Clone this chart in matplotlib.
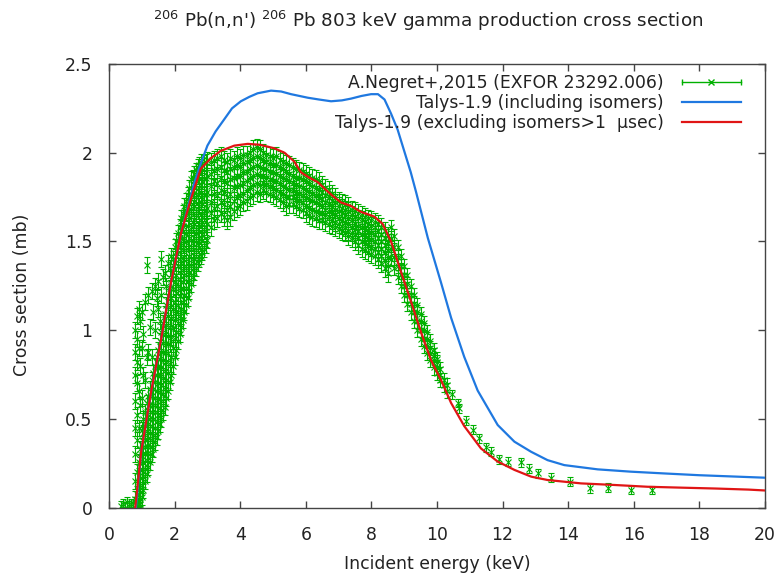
import matplotlib
matplotlib.use("Agg")
import matplotlib.pyplot as plt
from matplotlib.lines import Line2D
from matplotlib.legend_handler import HandlerBase

plt.rcParams['font.family'] = ['DejaVu Sans']
plt.rcParams['mathtext.fontset'] = 'dejavusans'

# ---------------- data ----------------
title = r"$^{206}$ Pb(n,n') $^{206}$ Pb 803 keV gamma production cross section"
x_label = "Incident energy (keV)"
y_label = "Cross section (mb)"
label_exp = "A.Negret+,2015 (EXFOR 23292.006)"
label_incl = "Talys-1.9 (including isomers)"
label_excl = "Talys-1.9 (excluding isomers>1  \u00b5sec)"
x_ticks = [0, 2, 4, 6, 8, 10, 12, 14, 16, 18, 20]
y_ticks = [0, 0.5, 1, 1.5, 2, 2.5]
y_tick_labels = ["0", "0.5", "1", "1.5", "2", "2.5"]

# Talys-1.9 including isomers
incl_E = [0.82, 0.98, 1.28, 1.59, 1.89, 2.2, 2.5, 2.6, 2.8, 3.0, 3.25, 3.52, 3.75,
          4.02, 4.28, 4.53, 4.94, 5.25, 5.55, 6.06, 6.4, 6.77, 7.1, 7.38, 7.7, 7.99,
          8.2, 8.4, 8.6, 8.8, 9.0, 9.2, 9.36, 9.72, 10.12, 10.43, 10.83, 11.24, 11.85,
          12.36, 12.87, 13.37, 13.88, 14.9, 15.91, 16.93, 18.0, 19.0, 20.0]
incl_xs = [0.0, 0.315, 0.65, 0.95, 1.27, 1.55, 1.76, 1.83, 1.94, 2.04, 2.12, 2.19, 2.25,
           2.29, 2.315, 2.335, 2.35, 2.345, 2.33, 2.31, 2.30, 2.29, 2.295, 2.305, 2.32, 2.33,
           2.33, 2.30, 2.22, 2.13, 2.01, 1.89, 1.78, 1.52, 1.27, 1.07, 0.85, 0.66, 0.466,
           0.372, 0.315, 0.268, 0.24, 0.216, 0.203, 0.193, 0.183, 0.176, 0.169]

# Talys-1.9 excluding isomers > 1 usec
excl_E = [0.80, 0.98, 1.28, 1.59, 1.89, 2.2, 2.5, 2.8, 3.11, 3.4, 3.82, 4.23, 4.6,
          5.04, 5.35, 5.65, 5.85, 6.1, 6.36, 6.56, 6.8, 7.07, 7.38, 7.68, 8.09, 8.34,
          8.6, 8.9, 9.21, 9.51, 9.82, 10.12, 10.43, 10.83, 11.34, 11.85, 12.36, 12.87,
          13.37, 14.39, 15.41, 16.42, 17.44, 18.5, 19.5, 20.0]
excl_xs = [0.0, 0.315, 0.65, 0.95, 1.27, 1.55, 1.74, 1.91, 1.97, 2.01, 2.04, 2.05, 2.045,
           2.025, 2.0, 1.95, 1.89, 1.86, 1.835, 1.80, 1.76, 1.72, 1.70, 1.667, 1.64, 1.60,
           1.50, 1.33, 1.16, 0.99, 0.83, 0.72, 0.59, 0.46, 0.334, 0.26, 0.213, 0.175,
           0.156, 0.137, 0.128, 0.118, 0.113, 0.108, 0.102, 0.097]

# Experimental data (A. Negret 2015)
flat_E = [0.36, 0.42, 0.48, 0.54, 0.60, 0.66, 0.72, 0.78, 0.84, 0.90, 0.95]
flat_y = [0.01, 0.02, 0.00, 0.03, 0.01, 0.02, 0.00, 0.03, 0.01, 0.02, 0.00]
flat_err = 0.03

rise_E = [0.80, 0.85, 0.90, 0.95, 1.00, 1.05, 1.10, 1.15, 1.20, 1.25, 1.30, 1.35, 1.40,
          1.45, 1.50, 1.55, 1.60, 1.65, 1.70, 1.75, 1.80, 1.85, 1.90, 1.95, 2.00, 2.05,
          2.10, 2.15, 2.20, 2.25, 2.30, 2.35, 2.40, 2.45, 2.50, 2.55, 2.60, 2.65, 2.70,
          2.75, 2.80, 2.85, 2.90, 2.95, 3.00]
rise_y = [[0.00, 0.05, 0.15, 0.30, 0.45, 0.60, 0.75, 0.88, 1.00],
          [0.01, 0.08, 0.20, 0.38, 0.52, 0.70, 0.82, 0.95, 1.08],
          [0.02, 0.10, 0.18, 0.26, 0.45, 0.66, 0.90, 1.12],
          [0.02, 0.09, 0.17, 0.25, 0.33, 0.58, 0.80, 1.05],
          [0.06, 0.13, 0.21, 0.29, 0.36, 0.44, 0.62, 0.90, 1.10],
          [0.10, 0.18, 0.26, 0.34, 0.42, 0.50, 0.75, 0.98],
          [0.15, 0.22, 0.30, 0.38, 0.46, 0.54, 0.72, 1.16],
          [0.19, 0.27, 0.35, 0.43, 0.51, 0.59, 0.85, 1.37],
          [0.23, 0.31, 0.39, 0.47, 0.55, 0.63, 0.88, 1.20],
          [0.26, 0.34, 0.42, 0.50, 0.58, 0.67, 1.02],
          [0.30, 0.38, 0.46, 0.54, 0.63, 0.72, 0.85, 1.22],
          [0.33, 0.41, 0.50, 0.58, 0.67, 0.76, 1.10],
          [0.37, 0.45, 0.54, 0.62, 0.71, 0.80, 1.00, 1.25],
          [0.40, 0.49, 0.58, 0.66, 0.75, 0.85, 1.18],
          [0.43, 0.52, 0.61, 0.70, 0.79, 0.89, 1.12, 1.28],
          [0.47, 0.56, 0.65, 0.75, 0.84, 0.94, 1.05],
          [0.50, 0.60, 0.69, 0.79, 0.88, 0.99, 1.20, 1.40],
          [0.54, 0.64, 0.73, 0.83, 0.93, 1.04, 1.30],
          [0.57, 0.67, 0.77, 0.88, 0.98, 1.09, 1.32],
          [0.62, 0.72, 0.82, 0.92, 1.03, 1.14, 1.25],
          [0.66, 0.76, 0.87, 0.97, 1.08, 1.19, 1.38],
          [0.71, 0.81, 0.92, 1.02, 1.13, 1.24, 1.35],
          [0.75, 0.85, 0.96, 1.07, 1.18, 1.29, 1.42],
          [0.80, 0.90, 1.01, 1.12, 1.23, 1.33, 1.40],
          [0.85, 0.95, 1.06, 1.16, 1.27, 1.38, 1.47],
          [0.89, 0.99, 1.10, 1.21, 1.31, 1.42, 1.50],
          [0.94, 1.04, 1.14, 1.25, 1.36, 1.47, 1.55],
          [0.98, 1.08, 1.19, 1.29, 1.40, 1.51, 1.58],
          [1.02, 1.12, 1.23, 1.34, 1.45, 1.56, 1.63],
          [1.06, 1.16, 1.27, 1.38, 1.48, 1.59, 1.66],
          [1.10, 1.20, 1.31, 1.41, 1.52, 1.63, 1.70],
          [1.14, 1.24, 1.35, 1.45, 1.55, 1.66, 1.73],
          [1.18, 1.28, 1.38, 1.49, 1.59, 1.70, 1.76],
          [1.22, 1.32, 1.42, 1.52, 1.63, 1.73, 1.80],
          [1.26, 1.36, 1.46, 1.56, 1.66, 1.76, 1.85],
          [1.30, 1.39, 1.49, 1.59, 1.69, 1.79, 1.86],
          [1.33, 1.42, 1.52, 1.62, 1.72, 1.82, 1.88],
          [1.35, 1.45, 1.55, 1.65, 1.75, 1.84, 1.90],
          [1.38, 1.48, 1.57, 1.67, 1.77, 1.87, 1.92],
          [1.40, 1.50, 1.60, 1.70, 1.80, 1.89, 1.93],
          [1.42, 1.52, 1.62, 1.72, 1.82, 1.92, 1.95],
          [1.44, 1.54, 1.64, 1.74, 1.84, 1.93],
          [1.46, 1.56, 1.66, 1.76, 1.85, 1.94],
          [1.48, 1.58, 1.68, 1.77, 1.86, 1.95],
          [1.51, 1.60, 1.69, 1.78, 1.87, 1.96]]
rise_err = 0.045

plat_E = [3.1, 3.2, 3.3, 3.4, 3.5, 3.6, 3.7, 3.8, 3.9, 4.0, 4.1, 4.2, 4.3, 4.4, 4.5,
          4.6, 4.7, 4.8, 4.9, 5.0, 5.1, 5.2, 5.3, 5.4, 5.5, 5.6, 5.7, 5.8, 5.9, 6.0,
          6.1, 6.2, 6.3, 6.4, 6.5, 6.6, 6.7, 6.8, 6.9, 7.0, 7.1, 7.2, 7.3, 7.4, 7.5,
          7.6, 7.7, 7.8, 7.9, 8.0, 8.1, 8.2, 8.3, 8.4, 8.5]
plat_y = [[1.58, 1.66, 1.72, 1.81, 1.88, 1.95], [1.62, 1.69, 1.77, 1.84, 1.90, 1.96],
          [1.63, 1.70, 1.76, 1.83, 1.91, 1.97], [1.66, 1.72, 1.79, 1.86, 1.92, 1.98],
          [1.64, 1.71, 1.78, 1.84, 1.90, 1.96], [1.62, 1.68, 1.75, 1.83, 1.89, 1.95],
          [1.64, 1.70, 1.77, 1.85, 1.91, 1.97], [1.67, 1.73, 1.80, 1.86, 1.92, 1.96],
          [1.69, 1.75, 1.81, 1.87, 1.93, 1.98], [1.70, 1.76, 1.82, 1.87, 1.92, 1.97],
          [1.72, 1.77, 1.83, 1.89, 1.94, 1.99], [1.73, 1.79, 1.84, 1.89, 1.95, 1.99],
          [1.75, 1.80, 1.86, 1.91, 1.96, 2.00], [1.76, 1.82, 1.87, 1.92, 1.97, 2.02],
          [1.78, 1.83, 1.88, 1.93, 1.98, 2.03], [1.77, 1.82, 1.87, 1.92, 1.97, 2.02],
          [1.79, 1.83, 1.87, 1.91, 1.96, 2.00], [1.78, 1.82, 1.86, 1.91, 1.95, 1.99],
          [1.77, 1.81, 1.85, 1.89, 1.94, 1.98], [1.76, 1.80, 1.84, 1.89, 1.93, 1.97],
          [1.75, 1.79, 1.84, 1.88, 1.93, 1.98], [1.74, 1.78, 1.83, 1.87, 1.92, 1.96],
          [1.72, 1.77, 1.81, 1.86, 1.91, 1.95], [1.70, 1.75, 1.80, 1.85, 1.89, 1.94],
          [1.71, 1.75, 1.79, 1.84, 1.88, 1.93], [1.71, 1.75, 1.79, 1.83, 1.87, 1.92],
          [1.70, 1.74, 1.78, 1.82, 1.86, 1.91], [1.69, 1.73, 1.77, 1.81, 1.86, 1.90],
          [1.68, 1.72, 1.76, 1.80, 1.85, 1.89], [1.66, 1.70, 1.75, 1.79, 1.84, 1.88],
          [1.65, 1.69, 1.74, 1.78, 1.83, 1.87], [1.64, 1.68, 1.73, 1.77, 1.81, 1.86],
          [1.63, 1.67, 1.72, 1.76, 1.80, 1.85], [1.62, 1.66, 1.71, 1.75, 1.79, 1.84],
          [1.62, 1.66, 1.70, 1.74, 1.78, 1.82], [1.61, 1.65, 1.68, 1.72, 1.76, 1.80],
          [1.60, 1.64, 1.67, 1.71, 1.75, 1.79], [1.59, 1.62, 1.66, 1.70, 1.73, 1.77],
          [1.58, 1.61, 1.65, 1.68, 1.72, 1.75], [1.57, 1.60, 1.63, 1.67, 1.70, 1.73],
          [1.56, 1.59, 1.62, 1.66, 1.69, 1.72], [1.55, 1.58, 1.61, 1.65, 1.68, 1.71],
          [1.53, 1.56, 1.60, 1.63, 1.67, 1.70], [1.52, 1.55, 1.58, 1.62, 1.65, 1.68],
          [1.50, 1.54, 1.57, 1.60, 1.64, 1.67], [1.48, 1.52, 1.56, 1.59, 1.63, 1.66],
          [1.46, 1.50, 1.54, 1.58, 1.62, 1.65], [1.45, 1.49, 1.53, 1.57, 1.61, 1.64],
          [1.44, 1.48, 1.52, 1.56, 1.60, 1.63], [1.43, 1.47, 1.51, 1.55, 1.59, 1.62],
          [1.42, 1.46, 1.50, 1.54, 1.58, 1.61], [1.40, 1.44, 1.48, 1.52, 1.56, 1.60],
          [1.38, 1.42, 1.46, 1.50, 1.54, 1.58], [1.35, 1.39, 1.44, 1.48, 1.52, 1.56],
          [1.32, 1.36, 1.41, 1.45, 1.49, 1.53]]
plat_err = 0.05

desc_E = [8.6, 8.7, 8.8, 8.9, 9.0, 9.1, 9.2, 9.3, 9.4, 9.5, 9.6, 9.7, 9.8, 9.9,
          10.0, 10.1, 10.2, 10.3]
desc_y = [[1.40, 1.46, 1.52, 1.58], [1.35, 1.41, 1.47, 1.53], [1.30, 1.36, 1.41, 1.47],
          [1.25, 1.31, 1.36, 1.42], [1.20, 1.25, 1.31, 1.36], [1.15, 1.20, 1.26, 1.31],
          [1.10, 1.15, 1.20, 1.25], [1.05, 1.10, 1.15, 1.20], [1.00, 1.05, 1.10, 1.14],
          [0.95, 1.00, 1.05, 1.09], [0.91, 0.95, 1.00, 1.04], [0.87, 0.91, 0.95, 0.99],
          [0.83, 0.87, 0.90, 0.94], [0.79, 0.83, 0.86, 0.89], [0.76, 0.79, 0.82, 0.84],
          [0.72, 0.75, 0.78], [0.69, 0.72], [0.66, 0.69]]
desc_err = 0.04

tail_E = [10.45, 10.63, 10.68, 10.88, 11.09, 11.29, 11.49, 11.65, 11.9, 12.15, 12.56,
          12.81, 13.07, 13.48, 14.04, 14.65, 15.2, 15.9, 16.57]
tail_y = [0.64, 0.59, 0.56, 0.49, 0.44, 0.39, 0.34, 0.315, 0.274, 0.26, 0.255,
          0.22, 0.195, 0.17, 0.146, 0.109, 0.113, 0.10, 0.10]
tail_err = 0.025

# ---------------- styles ----------------
c_exp = '#00b000'
c_incl = '#1f78e0'
c_excl = '#e01515'
c_axis = '#444444'
c_text = '#222222'
fs = 12.4


def flatten(es, rows):
    xs, ys = [], []
    for e, row in zip(es, rows):
        for v in row:
            xs.append(e)
            ys.append(v)
    return xs, ys


class HandlerGnuErr(HandlerBase):
    def create_artists(self, legend, orig_handle, xdescent, ydescent,
                       width, height, fontsize, trans):
        y = (height - ydescent) / 2.0
        x0, x1 = -xdescent, width - xdescent
        line = Line2D([x0, x1], [y, y], color=c_exp, lw=1.0)
        caps = Line2D([x0, x1], [y, y], color=c_exp, marker='|', ms=5,
                      mew=1.0, linestyle='none')
        mid = Line2D([(x0 + x1) / 2], [y], color=c_exp, marker='x', ms=5,
                     mew=1.0, linestyle='none')
        for a in (line, caps, mid):
            a.set_transform(trans)
        return [line, caps, mid]


fig = plt.figure(figsize=(7.76, 5.8), dpi=100)
ax = fig.add_axes([109 / 776, 1 - 507.7 / 580, 656 / 776, 443.7 / 580])

segments = [(flat_E, flat_y, flat_err)]
for es, rows, err in [(rise_E, rise_y, rise_err), (plat_E, plat_y, plat_err),
                      (desc_E, desc_y, desc_err)]:
    xs, ys = flatten(es, rows)
    segments.append((xs, ys, err))
segments.append((tail_E, tail_y, tail_err))

for xs, ys, err in segments:
    ax.errorbar(xs, ys, yerr=err, fmt='x', color=c_exp, ms=4, mew=0.8,
                elinewidth=0.8, capsize=2, capthick=0.8, zorder=2)

l_incl, = ax.plot(incl_E, incl_xs, color=c_incl, lw=1.6, zorder=3)
l_excl, = ax.plot(excl_E, excl_xs, color=c_excl, lw=1.6, zorder=4)

ax.set_xlim(0, 20)
ax.set_ylim(0, 2.5)
ax.set_xticks(x_ticks)
ax.set_xticklabels([str(t) for t in x_ticks])
ax.set_yticks(y_ticks)
ax.set_yticklabels(y_tick_labels)
ax.tick_params(direction='in', length=5, width=1, color=c_axis, top=True,
               right=True, labelsize=fs, labelcolor=c_text)
ax.tick_params(axis='x', pad=13.5)
ax.tick_params(axis='y', pad=12)
for s in ax.spines.values():
    s.set_color(c_axis)
    s.set_linewidth(1.0)

ax.set_xlabel(x_label, fontsize=fs, color=c_text, va='center')
ax.xaxis.set_label_coords(0.5, (507.7 - 564) / 443.7)
ax.set_ylabel(y_label, fontsize=fs, color=c_text, va='center')
ax.yaxis.set_label_coords((22 - 109) / 656, 0.48)
fig.text(428 / 776, 1 - 21 / 580, title, ha='center', va='center',
         fontsize=13.2, color=c_text)

proxy = Line2D([], [], color=c_exp)
leg = ax.legend([proxy, l_incl, l_excl], [label_exp, label_incl, label_excl],
                handler_map={proxy: HandlerGnuErr()}, loc='upper right',
                bbox_to_anchor=(0.963, 0.977), frameon=False, markerfirst=False,
                fontsize=fs, handlelength=3.4, handletextpad=1.05,
                labelspacing=0.12, borderpad=0, borderaxespad=0)
for t in leg.get_texts():
    t.set_color(c_text)

fig.savefig('out.png', dpi=100)
